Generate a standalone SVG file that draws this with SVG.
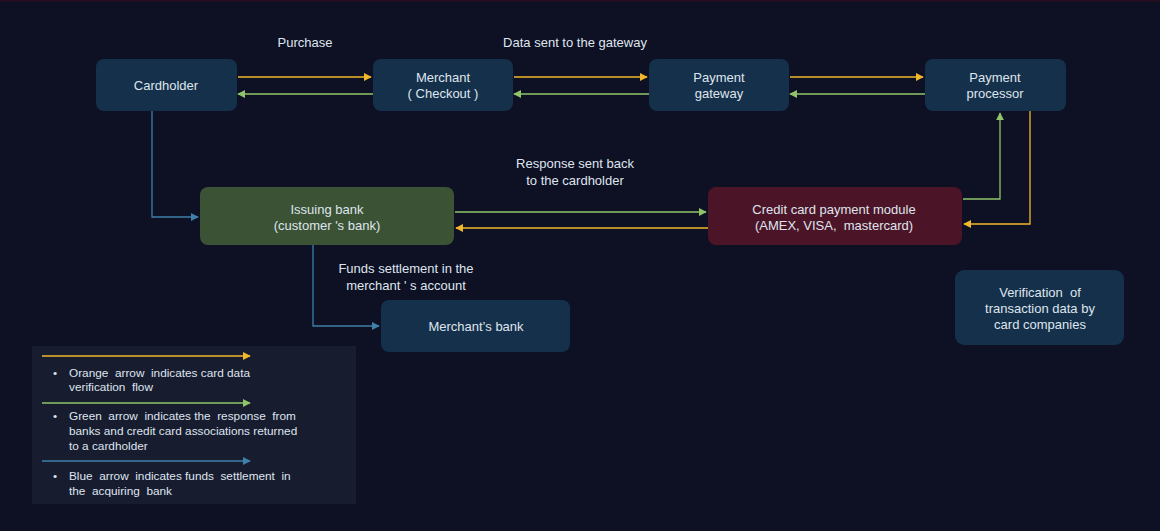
<svg xmlns="http://www.w3.org/2000/svg" width="1160" height="531" viewBox="0 0 1160 531">
<defs>
<style>
text{font-family:"Liberation Sans",Arial,sans-serif;fill:#dfe5ee;white-space:pre;}
.n{font-size:13px;text-anchor:middle;}
.lbl{font-size:13px;text-anchor:middle;}
.lg{font-size:11.8px;}
.box{fill:#15304a;}
.o{stroke:#f2b72a;stroke-width:1.3;fill:none;}
.g{stroke:#8fc46a;stroke-width:1.3;fill:none;}
.b{stroke:#3f7fa8;stroke-width:1.3;fill:none;}
</style>
<marker id="ao" viewBox="0 0 10 10" refX="9" refY="5" markerWidth="8" markerHeight="8" markerUnits="userSpaceOnUse" orient="auto"><path d="M0,0L10,5L0,10z" fill="#f2b72a"/></marker>
<marker id="ag" viewBox="0 0 10 10" refX="9" refY="5" markerWidth="8" markerHeight="8" markerUnits="userSpaceOnUse" orient="auto"><path d="M0,0L10,5L0,10z" fill="#8fc46a"/></marker>
<marker id="ab" viewBox="0 0 10 10" refX="9" refY="5" markerWidth="8" markerHeight="8" markerUnits="userSpaceOnUse" orient="auto"><path d="M0,0L10,5L0,10z" fill="#3f7fa8"/></marker>
</defs>
<rect width="1160" height="531" fill="#0e1024"/>
<rect width="1160" height="1.5" fill="#2a0c1e"/>

<g id="connectors">
<line class="o" x1="238" y1="77" x2="371" y2="77" marker-end="url(#ao)"/>
<line class="g" x1="373" y1="94" x2="238" y2="94" marker-end="url(#ag)"/>
<line class="o" x1="514" y1="77" x2="647" y2="77" marker-end="url(#ao)"/>
<line class="g" x1="649" y1="94" x2="514" y2="94" marker-end="url(#ag)"/>
<line class="o" x1="790" y1="77" x2="923" y2="77" marker-end="url(#ao)"/>
<line class="g" x1="925" y1="94" x2="790" y2="94" marker-end="url(#ag)"/>
<polyline class="g" points="963,199 1000,199 1000,113" marker-end="url(#ag)"/>
<polyline class="o" points="1030,111 1030,224 964,224" marker-end="url(#ao)"/>
<line class="g" x1="455" y1="212" x2="706" y2="212" marker-end="url(#ag)"/>
<line class="o" x1="708" y1="228" x2="456" y2="228" marker-end="url(#ao)"/>
<polyline class="b" points="152,111 152,217 198,217" marker-end="url(#ab)"/>
<polyline class="b" points="313,245 313,326 379,326" marker-end="url(#ab)"/>
</g>

<g id="labels">
<text class="lbl" x="305" y="47">Purchase</text>
<text class="lbl" x="575" y="47">Data sent to the gateway</text>
<text class="lbl" x="575" y="168">Response sent back</text>
<text class="lbl" x="575" y="185">to the cardholder</text>
<text class="lbl" x="406" y="273">Funds settlement in the</text>
<text class="lbl" x="406" y="290">merchant ' s account</text>
</g>

<g id="cardholder"><rect class="box" x="96" y="59" width="141" height="52" rx="8"/><text class="n" x="166" y="90">Cardholder</text></g>
<g id="merchant"><rect class="box" x="373" y="59" width="140" height="52" rx="8"/><text class="n" x="443" y="82">Merchant</text><text class="n" x="443" y="98">( Checkout )</text></g>
<g id="gateway"><rect class="box" x="649" y="59" width="140" height="52" rx="8"/><text class="n" x="719" y="82">Payment</text><text class="n" x="719" y="98">gateway</text></g>
<g id="processor"><rect class="box" x="925" y="59" width="141" height="52" rx="8"/><text class="n" x="995" y="82">Payment</text><text class="n" x="995" y="98">processor</text></g>
<g id="issuing"><rect x="200" y="187" width="254" height="58" rx="8" fill="#3b5334"/><text class="n" x="327" y="214">Issuing bank</text><text class="n" x="327" y="230">(customer 's bank)</text></g>
<g id="module"><rect x="708" y="187" width="254" height="58" rx="8" fill="#4c1427"/><text class="n" x="834" y="214">Credit card payment module</text><text class="n" x="834" y="230">(AMEX, VISA,  mastercard)</text></g>
<g id="merchantbank"><rect class="box" x="381" y="300" width="189" height="52" rx="8"/><text class="n" x="476" y="331">Merchant’s bank</text></g>
<g id="verification"><rect class="box" x="955" y="270" width="169" height="75" rx="9"/><text class="n" x="1040" y="297">Verification  of</text><text class="n" x="1040" y="313">transaction data by</text><text class="n" x="1040" y="329">card companies</text></g>

<g id="legend">
<rect x="32" y="346" width="324" height="158" fill="#171c2f"/>
<line class="o" x1="42" y1="356" x2="250" y2="356" marker-end="url(#ao)"/>
<line class="g" x1="42" y1="403" x2="250" y2="403" marker-end="url(#ag)"/>
<line class="b" x1="42" y1="461" x2="250" y2="461" marker-end="url(#ab)"/>
<text class="lg" x="53" y="377">•</text>
<text class="lg" x="69" y="377">Orange  arrow  indicates card data</text>
<text class="lg" x="69" y="391">verification  flow</text>
<text class="lg" x="53" y="420">•</text>
<text class="lg" x="69" y="420">Green  arrow  indicates the  response  from</text>
<text class="lg" x="69" y="435">banks and credit card associations returned</text>
<text class="lg" x="69" y="450">to a cardholder</text>
<text class="lg" x="53" y="480">•</text>
<text class="lg" x="69" y="480">Blue  arrow  indicates funds  settlement  in</text>
<text class="lg" x="69" y="495">the  acquiring  bank</text>
</g>
</svg>
